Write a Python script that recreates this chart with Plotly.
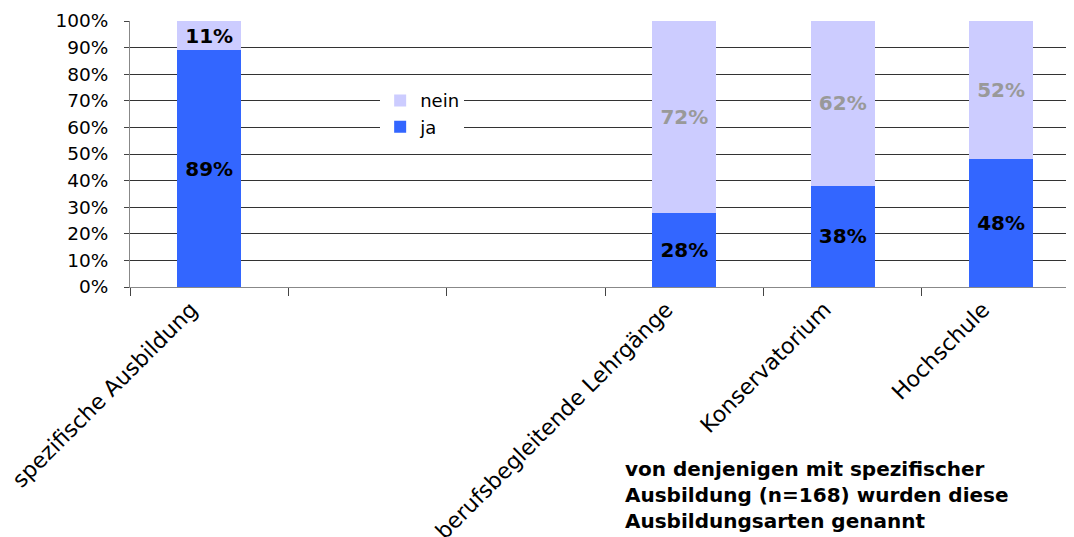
import plotly.graph_objects as go

categories = ["spezifische Ausbildung", "", "", "berufsbegleitende Lehrgänge", "Konservatorium", "Hochschule"]
ja_values = [0.89, None, None, 0.28, 0.38, 0.48]
nein_values = [0.11, None, None, 0.72, 0.62, 0.52]
ja_labels = ["89%", "", "", "28%", "38%", "48%"]
nein_labels = ["11%", "", "", "72%", "62%", "52%"]
nein_label_colors = ["#000000", "#000000", "#000000", "#999999", "#999999", "#999999"]
y_ticks = [0, 0.1, 0.2, 0.3, 0.4, 0.5, 0.6, 0.7, 0.8, 0.9, 1.0]
note = "von denjenigen mit spezifischer<br>Ausbildung (n=168) wurden diese<br>Ausbildungsarten genannt"

positions = list(range(len(categories)))
label_pos = [p for p, c in zip(positions, categories) if c]
label_txt = [c for c in categories if c]
boundaries = [p - 0.5 for p in positions] + [positions[-1] + 0.5]

FONT = "DejaVu Sans"

fig = go.Figure()
fig.add_trace(go.Bar(
    x=positions, y=ja_values, name="ja",
    marker=dict(color="#3366FF", line=dict(width=0)),
    text=ja_labels, textposition="inside", insidetextanchor="middle",
    textangle=0, constraintext="none",
    insidetextfont=dict(family=FONT, size=20, color="#000000", weight="bold"),
    hoverinfo="skip",
))
fig.add_trace(go.Bar(
    x=positions, y=nein_values, name="nein",
    marker=dict(color="#CCCCFF", line=dict(width=0)),
    text=nein_labels, textposition="inside", insidetextanchor="middle",
    textangle=0, constraintext="none",
    insidetextfont=dict(family=FONT, size=20, color=nein_label_colors, weight="bold"),
    hoverinfo="skip",
))

fig.update_layout(
    width=1066, height=529,
    barmode="stack", bargap=0.595,
    plot_bgcolor="white", paper_bgcolor="white",
    margin=dict(l=122, r=0, t=13, b=250),
    font=dict(family=FONT, size=18, color="#000000"),
    showlegend=True,
    legend=dict(
        x=0.265, y=0.77, xanchor="left", yanchor="top",
        bgcolor="white", traceorder="reversed",
        font=dict(family=FONT, size=18, color="#000000"),
        itemwidth=30, tracegroupgap=0,
    ),
    uniformtext=dict(mode=False),
)

fig.update_xaxes(
    type="linear", range=[-0.5, 5.46], autorange=False,
    tickmode="array", tickvals=label_pos, ticktext=label_txt,
    tickangle=-45, ticks="", ticklabelshift=-18, ticklabeloverflow="allow",
    tickfont=dict(family=FONT, size=22, color="#000000"),
    minor=dict(tickmode="array", tickvals=boundaries, ticks="outside",
               ticklen=8, tickcolor="#444444", showgrid=False),
    showline=True, linecolor="#888888", linewidth=1,
    showgrid=False, zeroline=False, automargin=False,
)
fig.update_yaxes(
    range=[0, 1], autorange=False,
    tickmode="array", tickvals=y_ticks, tickformat=".0%",
    ticks="outside", ticklen=5, tickcolor="#444444",
    ticklabelstandoff=12,
    tickfont=dict(family=FONT, size=18.5, color="#000000"),
    showline=True, linecolor="#888888", linewidth=1,
    showgrid=True, gridcolor="#333333", gridwidth=1,
    zeroline=False, automargin=False,
)

fig.add_annotation(
    text="<b>" + note + "</b>", xref="paper", yref="paper",
    x=0.5226, y=-0.631, xanchor="left", yanchor="top", align="left",
    showarrow=False, font=dict(family=FONT, size=20, color="#000000"),
)

fig.write_html("out.html")
